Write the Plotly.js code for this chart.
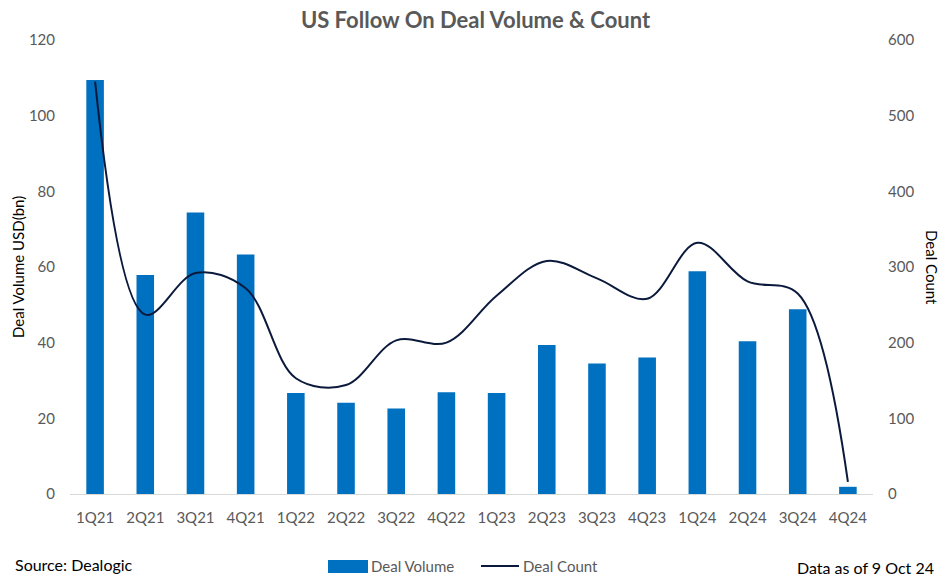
<!DOCTYPE html>
<html>
<head>
<meta charset="utf-8">
<script src="https://cdn.plot.ly/plotly-3.0.1.min.js"></script>
<style>html,body{margin:0;padding:0;background:#fff;}#chart{width:951px;height:584px;}</style>
</head>
<body>
<div id="chart"></div>
<script>
const quarters = ["1Q21","2Q21","3Q21","4Q21","1Q22","2Q22","3Q22","4Q22","1Q23","2Q23","3Q23","4Q23","1Q24","2Q24","3Q24","4Q24"];
const dealVolume = [109.4, 57.9, 74.4, 63.3, 26.7, 24.1, 22.6, 26.9, 26.7, 39.4, 34.5, 36.1, 58.9, 40.4, 48.8, 1.9];
const dealCount = [545, 237, 292, 272, 153, 144, 203, 200, 262, 308, 285, 258, 332, 281, 265, 16];

const FONT = "Lato, 'Open Sans', sans-serif";
const BAR_COLOR = "#0070C0";
const LINE_COLOR = "#0B1A3C";
const traces = [
  {
    type: "bar", name: "Deal Volume", x: quarters, y: dealVolume,
    marker: {color: BAR_COLOR}, yaxis: "y", showlegend: false
  },
  {
    type: "scatter", mode: "lines", name: "Deal Count", x: quarters, y: dealCount,
    line: {color: LINE_COLOR, width: 2, shape: "spline", smoothing: 1}, yaxis: "y2", showlegend: false
  }
];
// legend placed below the plot (paper coords; plot spans y 40..494 px, x 70..873 px)
const pw = 803, ph = 454;
const px = v => (v - 70) / pw;
const py = v => (494 - v) / ph;
const layout = {
  width: 951, height: 584,
  margin: {l: 70, r: 78, t: 40, b: 90, autoexpand: false},
  paper_bgcolor: "#fff", plot_bgcolor: "#fff",
  font: {family: FONT, color: "#595959", size: 15},
  title: {text: "<b>US Follow On Deal Volume & Count</b>", x: 0.5, xanchor: "center", y: 0.965, yanchor: "middle",
          font: {family: FONT, size: 22, color: "#595959"}},
  bargap: 0.65,
  showlegend: false,
  xaxis: {type: "category", showgrid: false, showline: true, linecolor: "#D9D9D9", linewidth: 1,
          ticks: "", tickfont: {size: 15, color: "#595959"}, ticklabelstandoff: 10, zeroline: false, automargin: false},
  yaxis: {range: [0, 120], dtick: 20, showgrid: false, zeroline: false, showline: false, ticks: "",
          tickfont: {size: 15, color: "#595959"}, ticklabelstandoff: 14, automargin: false},
  yaxis2: {range: [0, 600], dtick: 100, overlaying: "y", side: "right", showgrid: false, zeroline: false,
           showline: false, ticks: "", tickfont: {size: 15, color: "#595959"}, ticklabelstandoff: 14, automargin: false},
  shapes: [
    {type: "rect", xref: "paper", yref: "paper", x0: px(328), x1: px(368), y0: py(573), y1: py(560),
     fillcolor: BAR_COLOR, line: {width: 0}},
    {type: "line", xref: "paper", yref: "paper", x0: px(481), x1: px(519), y0: py(566), y1: py(566),
     line: {color: LINE_COLOR, width: 2}}
  ],
  annotations: [
    {text: "Deal Volume USD(bn)", textangle: -90, xref: "paper", yref: "paper", x: px(18), y: 0.5,
     xanchor: "center", yanchor: "middle", showarrow: false, font: {family: FONT, size: 15, color: "#000"}},
    {text: "Deal Volume", xref: "paper", yref: "paper", x: px(369), y: py(566),
     xanchor: "left", yanchor: "middle", showarrow: false, font: {family: FONT, size: 15, color: "#595959"}},
    {text: "Deal Count", xref: "paper", yref: "paper", x: px(521), y: py(566),
     xanchor: "left", yanchor: "middle", showarrow: false, font: {family: FONT, size: 15, color: "#595959"}},
    {text: "Deal Count", textangle: 90, xref: "paper", yref: "paper", x: px(932), y: 0.5,
     xanchor: "center", yanchor: "middle", showarrow: false, font: {family: FONT, size: 15, color: "#000"}},
    {text: "Source: Dealogic", xref: "paper", yref: "paper", x: px(13), y: py(564),
     xanchor: "left", yanchor: "middle", showarrow: false, font: {family: FONT, size: 16, color: "#000"}},
    {text: "Data as of 9 Oct 24", xref: "paper", yref: "paper", x: px(936), y: py(567),
     xanchor: "right", yanchor: "middle", showarrow: false, font: {family: FONT, size: 16, color: "#000"}}
  ]
};
Plotly.newPlot("chart", traces, layout, {displayModeBar: false, staticPlot: true});
</script>
</body>
</html>
